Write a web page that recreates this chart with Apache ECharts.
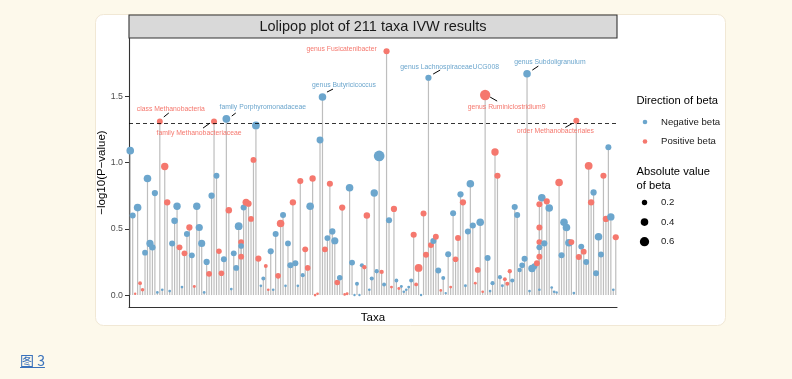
<!DOCTYPE html>
<html><head><meta charset="utf-8">
<script src="https://cdn.jsdelivr.net/npm/echarts@6/dist/echarts.min.js"></script>
<style>
html,body{margin:0;padding:0;background:#FDF9EB;}
#chart{position:absolute;left:0;top:0;width:792px;height:379px;}
#cap{position:absolute;left:20px;top:350px;font-family:'Noto Sans CJK SC',sans-serif;font-size:14px;line-height:20px;color:#3A72BB;text-decoration:underline;cursor:pointer;}
</style></head><body>
<div id="chart"></div>
<a id="cap">图 3</a>
<script>
// ---------------- data ----------------
const chartTitle = 'Lolipop plot of 211 taxa IVW results';
const xTitle = 'Taxa';
const yTitle = '\u2212log10(P\u2212value)';
const nSlots = 198;
const taxaSlots = [];
for (let i = 0; i < nSlots; i++) taxaSlots.push('taxon ' + (i + 1));

const taxonPos = [
  0,1,2,3,4,5,6,7,8,9,
  10,11,12,13,14,15,16,17,18,19,
  20,21,22,23,24,25,26,27,28,29,
  30,31,32,33,34,35,36,37,38,39,
  40,41,42,43,44,45,45,45,46,47,48,49,
  50,51,52,53,54,55,56,57,58,59,
  60,61,62,63,64,65,66,67,68,69,
  70,71,72,73,74,75,76,77,78,79,
  80,81,82,83,84,85,86,87,88,89,
  90,91,92,93,94,95,96,97,98,99,
  100,101,102,103,104,105,106,107,108,109,
  110,111,112,113,114,115,116,117,118,119,
  120,121,122,123,124,125,126,127,128,129,
  130,131,132,133,134,135,136,137,138,139,
  140,141,142,143,144,145,146,147,148,149,
  150,151,152,153,154,155,156,157,158,159,
  160,161,162,163,164,165,166,166,166,166,166,166,167,168,169,
  170,171,172,173,174,175,176,177,178,179,
  180,181,182,183,184,185,186,187,188,189,
  190,191,192,193,194,195,196,197
];
const logP = [
  1.09,0.60,0.01,0.66,0.09,0.04,0.32,0.88,0.39,0.36,
  0.77,0.02,1.31,0.04,0.97,0.70,0.03,0.39,0.56,0.67,
  0.36,0.06,0.315,0.46,0.51,0.30,0.065,0.67,0.51,0.39,
  0.02,0.25,0.16,0.75,1.31,0.90,0.33,0.165,0.27,1.33,
  0.64,0.045,0.315,0.205,0.52,0.40,0.37,0.29,0.66,0.70,0.69,0.575,
  1.02,1.28,0.275,0.07,0.125,0.22,0.04,0.33,0.04,0.46,
  0.145,0.54,0.605,0.07,0.39,0.225,0.70,0.24,0.07,0.86,
  0.15,0.345,0.205,0.67,0.88,0.00,0.01,1.17,1.495,0.345,
  0.43,0.84,0.48,0.41,0.095,0.13,0.66,0.005,0.01,0.81,
  0.245,0.00,0.085,0.00,0.225,0.21,0.60,0.04,0.125,0.77,
  0.18,1.05,0.175,0.08,1.84,0.565,0.06,0.65,0.11,0.05,
  0.065,0.025,0.04,0.06,0.11,0.455,0.08,0.205,0.00,0.615,
  0.305,1.64,0.377,0.408,0.44,0.185,0.035,0.128,0.015,0.308,
  0.06,0.617,0.27,0.43,0.76,0.70,0.07,0.479,0.84,0.525,
  0.09,0.19,0.55,0.025,1.51,0.28,0.03,0.09,1.08,0.90,
  0.135,0.07,0.12,0.085,0.18,0.11,0.665,0.605,0.19,0.225,
  0.275,1.67,0.03,0.20,0.218,0.24,0.685,0.51,0.40,0.36,0.29,0.04,0.735,0.39,0.707,
  0.657,0.057,0.025,0.02,0.85,0.30,0.55,0.51,0.395,0.40,
  0.015,1.315,0.288,0.366,0.327,0.25,0.975,0.70,0.775,0.165,
  0.44,0.306,0.90,0.575,1.115,0.59,0.04,0.436
];
const beta = [
  -0.40,-0.25,0.04,-0.40,0.10,0.09,-0.23,-0.40,-0.36,-0.28,
  -0.27,-0.05,0.24,-0.05,0.38,0.28,-0.05,-0.25,-0.30,-0.38,
  0.24,-0.05,0.23,-0.25,0.27,-0.24,0.06,-0.38,-0.36,-0.35,
  -0.05,-0.27,0.24,-0.27,0.25,-0.24,0.21,0.22,-0.25,-0.42,
  0.29,-0.05,-0.24,-0.24,-0.42,0.24,-0.22,0.24,-0.25,0.35,0.27,0.24,
  0.24,-0.42,0.26,-0.05,-0.11,0.11,0.05,-0.26,-0.05,-0.25,
  0.22,0.40,-0.25,-0.05,-0.24,-0.26,0.28,-0.25,-0.05,0.26,
  -0.12,0.24,0.22,-0.40,0.28,0.05,0.05,-0.33,-0.40,0.24,
  -0.24,0.26,-0.27,-0.36,0.21,-0.21,0.27,0.05,0.06,-0.40,
  -0.24,-0.04,-0.11,-0.04,-0.12,0.13,0.29,-0.05,-0.12,-0.38,
  -0.13,-0.80,0.13,-0.11,0.26,-0.26,0.06,0.27,-0.10,0.06,
  -0.06,-0.05,-0.05,-0.06,-0.12,0.26,0.10,0.42,-0.04,0.25,
  0.25,-0.27,0.24,-0.26,0.24,-0.24,0.05,-0.11,-0.04,-0.25,
  0.06,-0.25,0.22,0.25,-0.27,0.27,-0.06,-0.25,-0.40,-0.26,
  0.06,0.23,-0.40,0.05,0.74,-0.25,-0.05,-0.12,0.38,0.26,
  -0.12,-0.06,0.10,0.11,0.13,-0.12,-0.26,-0.25,-0.14,-0.22,
  -0.25,-0.40,-0.05,-0.38,-0.24,0.24,0.25,0.25,0.24,-0.24,0.24,-0.05,-0.40,-0.26,0.26,
  -0.40,-0.05,-0.05,-0.04,0.40,-0.25,-0.40,-0.40,-0.40,0.24,
  -0.05,0.25,0.25,-0.24,0.23,-0.24,0.42,0.28,-0.27,-0.24,
  -0.40,-0.24,0.26,0.27,-0.25,-0.38,-0.05,0.26
];
const yTicks = [0, 0.5, 1.0, 1.5];
const threshold = 1.30103; // -log10(0.05)
const directionNames = ['Negative beta', 'Positive beta'];
const sizeBreaks = [0.2, 0.4, 0.6];

const annoTaxa = ['class Methanobacteria', 'family Methanobacteriaceae', 'family Porphyromonadaceae',
  'genus Butyricicoccus', 'genus Fusicatenibacter', 'genus LachnospiraceaeUCG008',
  'genus Subdoligranulum', 'genus Ruminiclostridium9', 'order Methanobacteriales'];
const annoPos = [12, 34, 39, 78, 104, 121, 161, 144, 181];

// ---------------- layout / style (not data) ----------------
const FONT = '"Liberation Sans", Arial, Helvetica, sans-serif';
const BLUE = '#6CA6CD', RED = '#F5786E', STEM = '#BEBEBE';
const labelLayout = [
  {dx: 11, dy: -12, seg: [4, -4.5, 9, -8.5]},
  {dx: -15, dy: 11.6, seg: [-11, 6.6, -4, 1.6]},
  {dx: 36.4, dy: -11.8, seg: [5.4, -2.8, 9.4, -5.8]},
  {dx: 21.5, dy: -12, seg: [4.5, -4.9, 10.5, -7.9]},
  {dx: -45, dy: -2, seg: null},
  {dx: 21.2, dy: -11, seg: [4.7, -3.7, 11.7, -7.7]},
  {dx: 22.8, dy: -12, seg: [5.3, -3.7, 11.3, -7.7]},
  {dx: 21.5, dy: 11.8, seg: [5, 2.1, 12, 6.1]},
  {dx: -21, dy: 10.6, seg: [-11, 6.6, -4, 2.6]}
];
function dotSize(b) { return Math.max(2.2, 12 * Math.sqrt(Math.abs(b))); }

const points = taxonPos.map((p, i) => [p, logP[i], beta[i]]);

const chart = echarts.init(document.getElementById('chart'), null, {renderer: 'canvas'});
chart.setOption({
  animation: false,
  backgroundColor: '#FDF9EB',
  grid: {left: 129, top: 38, width: 488, height: 269, containLabel: false},
  xAxis: {
    type: 'category', data: taxaSlots, boundaryGap: true,
    axisLine: {show: true, onZero: false, lineStyle: {color: '#333', width: 1.1}},
    axisTick: {show: false}, axisLabel: {show: false}, splitLine: {show: false},
    name: xTitle, nameLocation: 'middle', nameGap: 5, nameMoveOverlap: false,
    nameTextStyle: {fontFamily: FONT, fontSize: 11.5, color: '#000', verticalAlign: 'top'}
  },
  yAxis: {
    type: 'value', min: -0.09, max: 1.94,
    axisLine: {show: true, lineStyle: {color: '#333', width: 1.1}},
    axisTick: {show: true, customValues: yTicks, length: 4, lineStyle: {color: '#333'}},
    axisLabel: {customValues: yTicks, formatter: v => v.toFixed(1), color: '#4D4D4D',
      fontSize: 8.8, fontFamily: FONT, margin: 6},
    splitLine: {show: false},
    name: yTitle, nameLocation: 'middle', nameGap: 21, nameRotate: 90, nameMoveOverlap: false,
    nameTextStyle: {fontFamily: FONT, fontSize: 11.5, color: '#000'}
  },
  series: [
    {
      type: 'custom', name: 'stems', data: points, encode: {x: 0, y: 1}, z: 2, silent: true,
      renderItem: function (params, api) {
        const p0 = api.coord([api.value(0), 0]);
        const p1 = api.coord([api.value(0), api.value(1)]);
        return {type: 'line', shape: {x1: p0[0], y1: p0[1], x2: p1[0], y2: p1[1]},
          style: {stroke: STEM, lineWidth: 1.2}};
      }
    },
    {
      type: 'line', name: 'threshold', data: [], z: 3, silent: true,
      markLine: {silent: true, symbol: ['none', 'none'], label: {show: false},
        lineStyle: {type: [4, 3], color: '#000', width: 0.8},
        data: [{yAxis: threshold}]}
    },
    {
      type: 'scatter', name: 'taxa', data: points, z: 4, silent: true,
      symbolSize: v => dotSize(v[2]),
      itemStyle: {opacity: 1, color: p => (p.value[2] < 0 ? BLUE : RED)}
    }
  ]
});

// ---------------- decorations, legend, annotations ----------------
const els = [];
els.push({type: 'rect', z: -10, shape: {x: 95.5, y: 14.5, width: 630, height: 311, r: 8},
  style: {fill: '#FFFFFF', stroke: '#F1E8D5', lineWidth: 1}});
els.push({type: 'rect', z: 10, shape: {x: 129, y: 15, width: 488, height: 23},
  style: {fill: '#D9D9D9', stroke: '#333333', lineWidth: 1.1}});
function txt(t, x, y, size, color, align, extra) {
  return Object.assign({type: 'text', z: 20, style: {text: t, x: x, y: y, fill: color,
    font: size + 'px ' + FONT, align: align, textAlign: align,
    verticalAlign: 'middle', textVerticalAlign: 'middle'}}, extra || {});
}
els.push(txt(chartTitle, 373, 26.5, 14.5, '#1A1A1A', 'center'));

// legend: direction
els.push(txt('Direction of beta', 636.5, 101, 11.2, '#000', 'left'));
[BLUE, RED].forEach((c, i) => {
  const y = 122 + i * 19.5;
  els.push({type: 'circle', z: 20, shape: {cx: 645, cy: y, r: 2.3}, style: {fill: c}});
  els.push(txt(directionNames[i], 661, y, 9.6, '#1A1A1A', 'left'));
});
// legend: size
els.push(txt('Absolute value', 636.5, 171.5, 11.2, '#000', 'left'));
els.push(txt('of beta', 636.5, 186, 11.2, '#000', 'left'));
sizeBreaks.forEach((b, i) => {
  const y = 202.5 + i * 19.6;
  els.push({type: 'circle', z: 20, shape: {cx: 644.5, cy: y, r: dotSize(b) / 2}, style: {fill: '#000'}});
  els.push(txt(b.toFixed(1), 661, y, 9.6, '#1A1A1A', 'left'));
});

// annotations (positioned from the data point through the chart's scales)
annoTaxa.forEach((name, k) => {
  const pos = annoPos[k];
  let best = -1;
  for (let i = 0; i < taxonPos.length; i++) {
    if (taxonPos[i] === pos && (best < 0 || logP[i] > logP[best])) best = i;
  }
  const px = chart.convertToPixel({xAxisIndex: 0, yAxisIndex: 0}, [pos, logP[best]]);
  const col = beta[best] < 0 ? BLUE : RED;
  const L = labelLayout[k];
  els.push(txt(name, px[0] + L.dx, px[1] + L.dy, 6.8, col, 'center', {z: 30}));
  if (L.seg) {
    els.push({type: 'line', z: 30, shape: {x1: px[0] + L.seg[0], y1: px[1] + L.seg[1],
      x2: px[0] + L.seg[2], y2: px[1] + L.seg[3]}, style: {stroke: '#000', lineWidth: 1}});
  }
});

chart.setOption({graphic: {elements: els}});
</script></body></html>
